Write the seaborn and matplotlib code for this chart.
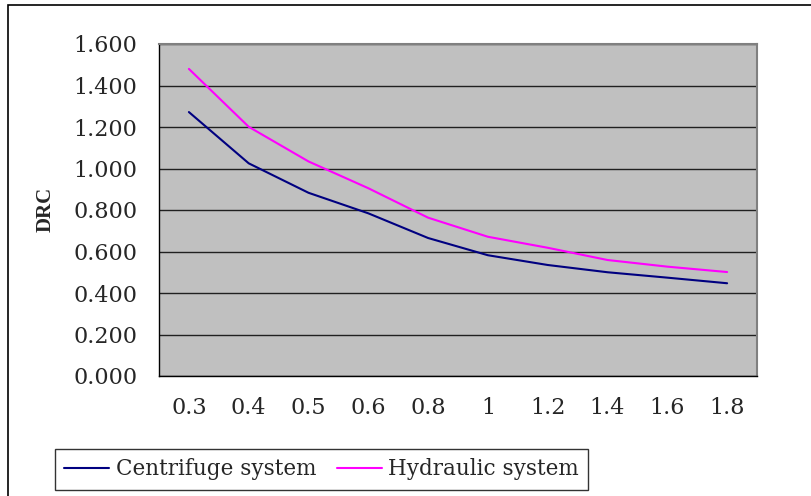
import numpy as np
import pandas as pd
import matplotlib
matplotlib.use("Agg")
import matplotlib.pyplot as plt
import seaborn as sns
from matplotlib.patches import Rectangle
from matplotlib.lines import Line2D

categories = ["0.3", "0.4", "0.5", "0.6", "0.8", "1", "1.2", "1.4", "1.6", "1.8"]
centrifuge = [1.272, 1.025, 0.883, 0.784, 0.665, 0.582, 0.535, 0.500, 0.474, 0.447]
hydraulic = [1.480, 1.201, 1.034, 0.905, 0.763, 0.671, 0.618, 0.559, 0.527, 0.501]
yticks = [0.0, 0.2, 0.4, 0.6, 0.8, 1.0, 1.2, 1.4, 1.6]
series_names = ["Centrifuge system", "Hydraulic system"]
colors = {"Centrifuge system": "#000080", "Hydraulic system": "#FF00FF"}

df = pd.concat([
    pd.DataFrame({"x": categories, "DRC": centrifuge, "series": series_names[0]}),
    pd.DataFrame({"x": categories, "DRC": hydraulic, "series": series_names[1]}),
])

sns.set_theme(style="white")
plt.rcParams["font.family"] = ["DejaVu Serif"]

fig = plt.figure(figsize=(8.12, 4.96), dpi=100)
ax = fig.add_axes([159/812, 1-376/496, (757-159)/812, (376-44)/496])
ax.set_facecolor("#C0C0C0")

sns.lineplot(data=df, x="x", y="DRC", hue="series", palette=colors, ax=ax,
             linewidth=1.5, legend=False, sort=False)

ax.set_xlim(-0.5, len(categories) - 0.5)
ax.set_ylim(0, 1.6)
ax.set_yticks(yticks)
ax.set_yticklabels([f"{v:.3f}" for v in yticks], fontsize=16)
ax.set_xticks(range(len(categories)))
ax.set_xticklabels(categories, fontsize=16)
ax.set_xticks(np.arange(-0.5, len(categories), 1.0), minor=True)
ax.tick_params(axis="x", which="major", length=0, pad=15)
ax.tick_params(axis="x", which="minor", length=5, width=1, color="black", direction="out")
ax.tick_params(axis="y", which="major", length=5, width=1, color="black", direction="out", pad=10.5)
ax.yaxis.grid(True, color="#202020", linewidth=1)
ax.xaxis.grid(False)
ax.set_axisbelow(True)
ax.set_xlabel("")
ax.set_ylabel("DRC", fontsize=15, fontweight="bold", family="Liberation Serif")
ax.yaxis.set_label_coords((56 - 159) / 598, (376 - 209.5) / 332)

for side in ["top", "right"]:
    ax.spines[side].set_color("#808080")
    ax.spines[side].set_linewidth(1.5)
for side in ["left", "bottom"]:
    ax.spines[side].set_color("black")
    ax.spines[side].set_linewidth(1)

# outer chart border
fig.patches.append(Rectangle((8/812, -0.1), 1.2, 1 - 5/496 + 0.1, transform=fig.transFigure,
                             fill=False, edgecolor="black", linewidth=1.2))

handles = [Line2D([], [], color=colors[n], linewidth=1.5) for n in series_names]
leg = fig.legend(handles, series_names, loc="center", bbox_to_anchor=(321.5/812, 1-469.5/496),
                 ncol=2, frameon=True, fancybox=False, fontsize=15.5, handlelength=2.1,
                 handletextpad=0.3, columnspacing=0.95, borderpad=0.42)
leg.get_frame().set_edgecolor("black")
leg.get_frame().set_linewidth(1)
leg.get_frame().set_facecolor("white")

fig.savefig("out.png", dpi=100, facecolor="white")
